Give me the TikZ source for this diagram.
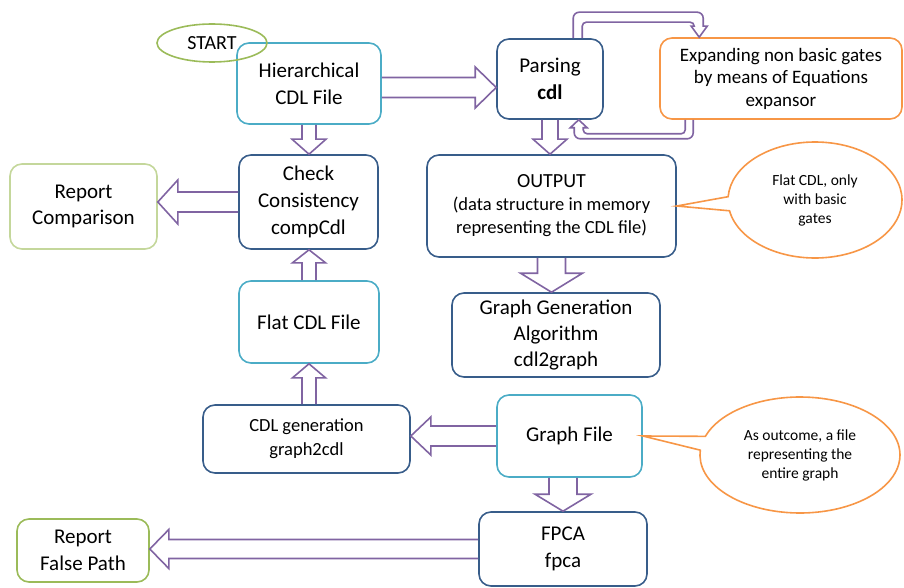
\documentclass[tikz,border=0pt]{standalone}
\usepackage{fontspec}
\setmainfont{Carlito}
\usepackage{tikz}
\usetikzlibrary{calc,shapes.geometric,shapes.callouts}

\definecolor{tealline}{RGB}{75,172,198}
\definecolor{navyline}{RGB}{56,93,138}
\definecolor{greenline}{RGB}{155,187,89}
\definecolor{palegreen}{RGB}{196,215,155}
\definecolor{orangeline}{RGB}{247,150,70}
\definecolor{arrowpurple}{RGB}{128,100,162}

% hollow block arrow: from, to, shaft half width, head half width, head length
\newcommand{\blockarrow}[5]{%
  \draw[blockarr] let \p1=#1, \p2=#2,
      \n1={atan2(\y2-\y1,\x2-\x1)}, \n2={veclen(\x2-\x1,\y2-\y1)} in
      [shift={(\p1)}, rotate=\n1]
      (0,-#3) -- ({\n2-#5},-#3) -- ({\n2-#5},-#4) -- (\n2,0)
      -- ({\n2-#5},#4) -- ({\n2-#5},#3) -- (0,#3);
}

\begin{document}
\begin{tikzpicture}[x=1pt,y=1pt,yscale=-1,xscale=1,
    box/.style={rectangle, rounded corners=12, line width=1.6, align=center, inner sep=0},
    tealbox/.style={box, draw=tealline},
    navybox/.style={box, draw=navyline},
    greenbox/.style={box, draw=greenline},
    bigtext/.style={font=\fontsize{21}{27}\selectfont},
    blockarr/.style={draw=arrowpurple, line width=1.6, line join=miter},
    bubble/.style={ellipse callout, draw=orangeline, line width=1.6, align=center,
      inner sep=0, callout pointer arc=14, font=\fontsize{15.5}{19}\selectfont}]
\useasboundingbox (0,0) rectangle (904,588);

% Rounded Rect
\node[tealbox, bigtext, minimum width=144, minimum height=81] (hier) at (309,83.5) {Hierarchical\\CDL File};
% Ellipse
\node[ellipse, draw=greenline, line width=1.6, minimum width=110, minimum height=38, inner sep=0,
  font=\fontsize{20}{24}\selectfont] (start) at (212,43) {START};
% Rounded Rect
\node[navybox, bigtext, minimum width=106, minimum height=80] (pars) at (550,79) {Parsing\\\textbf{cdl}};
% Rounded Rect
\node[box, draw=orangeline, minimum width=242, minimum height=81,
  font=\fontsize{19}{22.5}\selectfont] (expd) at (781,78.5) {Expanding non basic gates\\by means of Equations\\expansor};
% Rounded Rect
\node[navybox, bigtext, minimum width=139, minimum height=94] (check) at (308.5,202) {Check\\Consistency\\compCdl};
% Rounded Rect
\node[box, draw=palegreen, font=\fontsize{21}{26}\selectfont, minimum width=147, minimum height=85] (rcmp) at (83.5,206.5) {Report\\Comparison};
% Rounded Rect
\node[navybox, font=\fontsize{18.5}{23}\selectfont, minimum width=249, minimum height=102] (out) at (551.5,206)
  {{\fontsize{20}{23}\selectfont OUTPUT}\\(data structure in memory\\representing the CDL file)};
% Rounded Rect
\node[tealbox, bigtext, minimum width=140, minimum height=82] (flat) at (309,322) {Flat CDL File};
% Rounded Rect
\node[navybox, font=\fontsize{21}{26}\selectfont, minimum width=208, minimum height=84] (gen) at (556,335) {Graph Generation\\Algorithm\\cdl2graph};
% Rounded Rect
\node[navybox, font=\fontsize{18.5}{24}\selectfont, minimum width=207, minimum height=68] (cdlg) at (306.5,439) {CDL generation\\graph2cdl};
% Rounded Rect
\node[tealbox, bigtext, minimum width=145, minimum height=82] (gf) at (569.5,436) {Graph File};
% Rounded Rect
\node[navybox, bigtext, minimum width=168, minimum height=74] (fpca) at (563,549) {FPCA\\fpca};
% Rounded Rect
\node[greenbox, bigtext, minimum width=132, minimum height=63] (rfp) at (83,550.5) {Report\\False Path};

% Callouts
\node[bubble, minimum width=174, minimum height=116, callout absolute pointer={(out.east)}] (note1) at (815,200)
  {Flat CDL, only\\with basic\\gates};
\node[bubble, minimum width=200, minimum height=116, callout absolute pointer={(gf.east)}] (note2) at (800,455)
  {As outcome, a file\\representing the\\entire graph};

% Block Arrows
\coordinate (hierout) at ($(hier.east)+(0,4)$);
\blockarrow{(hierout)}{(hierout -| pars.west)}{10}{20.5}{21}
\blockarrow{(hier.south)}{(hier.south |- check.north)}{7}{17}{15}
\blockarrow{(pars.south)}{(pars.south |- out.north)}{8}{17}{15}
\blockarrow{(check.west)}{(check.west -| rcmp.east)}{10}{22}{20}
\blockarrow{(flat.north)}{(flat.north |- check.south)}{7}{16.5}{13}
\blockarrow{(cdlg.north -| flat.south)}{(flat.south)}{7}{16.5}{14}
\blockarrow{(out.south)}{(out.south |- gen.north)}{14}{31}{19}
\blockarrow{(gf.west)}{(gf.west -| cdlg.east)}{10}{19}{20}
\blockarrow{(fpca.north |- gf.south)}{(fpca.north)}{14}{28}{17}
\blockarrow{(fpca.west)}{(fpca.west -| rfp.east)}{9.5}{19.5}{19}

% Loop Parsing -> Expanding
\draw[blockarr] ($(pars.north west)+(77,0)$) [rounded corners=6] |- ($(expd.north west)+(44,-25)$)
  [sharp corners] -- ($(expd.north west)+(44,-11)$) -- ++(4,0) -- ($(expd.north west)+(40,0)$)
  -- ++(-8,-11) -- ++(3,0) [rounded corners=4] |- ($(pars.north west)+(86,-16)$)
  [sharp corners] -- ($(pars.north west)+(86,0)$);
% Loop Expanding -> Parsing
\draw[blockarr] ($(expd.south west)+(34,0)$) [rounded corners=6] |- ($(pars.south west)+(78,19)$)
  [sharp corners] -- ($(pars.south west)+(78,8)$) -- ++(-4,0) -- ($(pars.south west)+(82.5,0)$)
  -- ++(8.5,8) -- ++(-4,0) [rounded corners=4] |- ($(expd.south west)+(26,14)$)
  [sharp corners] -- ($(expd.south west)+(26,0)$);
\end{tikzpicture}
\end{document}
